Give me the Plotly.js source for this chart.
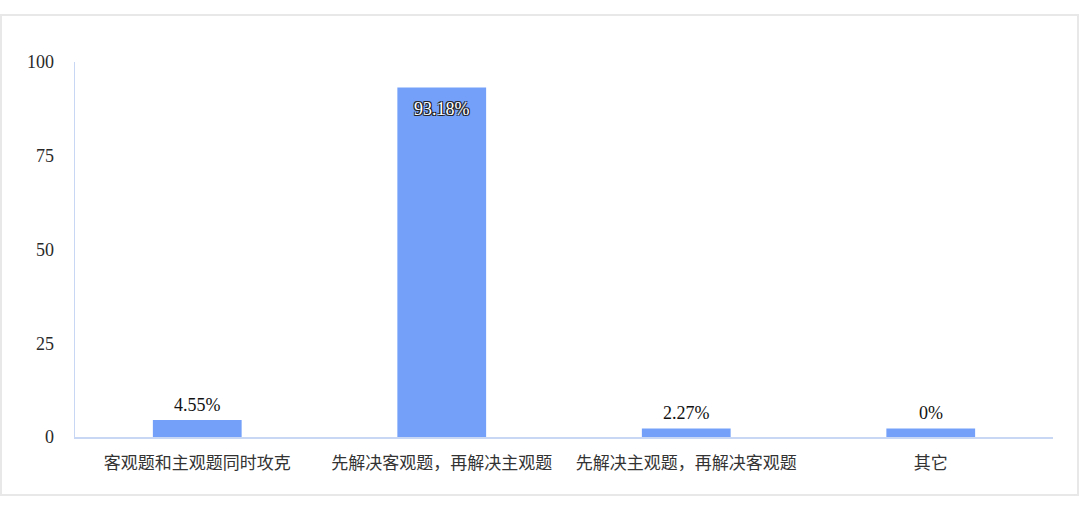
<!DOCTYPE html>
<html>
<head>
<meta charset="utf-8">
<script src="https://cdn.plot.ly/plotly-3.0.1.min.js"></script>
<style>
  body { margin: 0; background: #fff; }
  #wrap { position: relative; width: 1080px; height: 528px; }
  #chart { width: 1080px; height: 528px; }
  #frame {
    position: absolute; left: 0; top: 14px; width: 1075px; height: 478px;
    border: 2px solid #e8e8e8; pointer-events: none;
  }
</style>
</head>
<body>
<div id="wrap">
  <div id="chart"></div>
  <div id="frame"></div>
</div>
<script>
// categories along the x axis
const categories = ['客观题和主观题同时攻克', '先解决客观题，再解决主观题', '先解决主观题，再解决客观题', '其它'];
// bar heights as drawn in the picture (the "0%" bar still shows a small stub)
const barHeights = [4.55, 93.18, 2.27, 2.27];
// value labels shown on the bars
const valueLabels = ['4.55%', '93.18%', '2.27%', '0%'];
// label sits inside the top of the bar for the tall one
const labelInside = [false, true, false, false];

const FONT = "'Liberation Serif', 'Times New Roman', 'Noto Sans CJK SC', serif";
const BAR_COLOR = '#74a0f9';
const AXIS_COLOR = '#c8d7f3';

let data = [{
  type: 'bar',
  x: categories,
  y: barHeights,
  marker: { color: BAR_COLOR },
  hoverinfo: 'none'
}];

let annotations = [];
for (let i = 0; i < categories.length; i++) {
  let inside = labelInside[i];
  annotations.push({
    x: categories[i],
    y: barHeights[i],
    text: valueLabels[i],
    showarrow: false,
    yanchor: inside ? 'top' : 'bottom',
    yshift: inside ? -9 : 3,
    font: inside
      ? { family: FONT, size: 18, color: '#fff',
          shadow: '1px 1px 0 #222, -1px -1px 0 #222, 1px -1px 0 #222, -1px 1px 0 #222' }
      : { family: FONT, size: 18, color: '#111' }
  });
}

let layout = {
  width: 1080,
  height: 528,
  margin: { l: 75, r: 27, t: 62, b: 91 },
  paper_bgcolor: '#fff',
  plot_bgcolor: '#fff',
  showlegend: false,
  bargap: 0.637,
  font: { family: FONT, size: 16, color: '#333' },
  xaxis: {
    showline: true,
    linecolor: AXIS_COLOR,
    linewidth: 1.5,
    showgrid: false,
    ticks: '',
    tickfont: { family: FONT, size: 17, color: '#333' },
    ticklabelstandoff: 10
  },
  yaxis: {
    range: [0, 100],
    tickvals: [0, 25, 50, 75, 100],
    showline: true,
    linecolor: AXIS_COLOR,
    linewidth: 1.5,
    showgrid: false,
    zeroline: false,
    ticks: '',
    ticklabelstandoff: 16,
    tickfont: { family: FONT, size: 18, color: '#2a2a2a' }
  },
  annotations: annotations
};

Plotly.newPlot('chart', data, layout, { displayModeBar: false, staticPlot: true });
</script>
</body>
</html>
